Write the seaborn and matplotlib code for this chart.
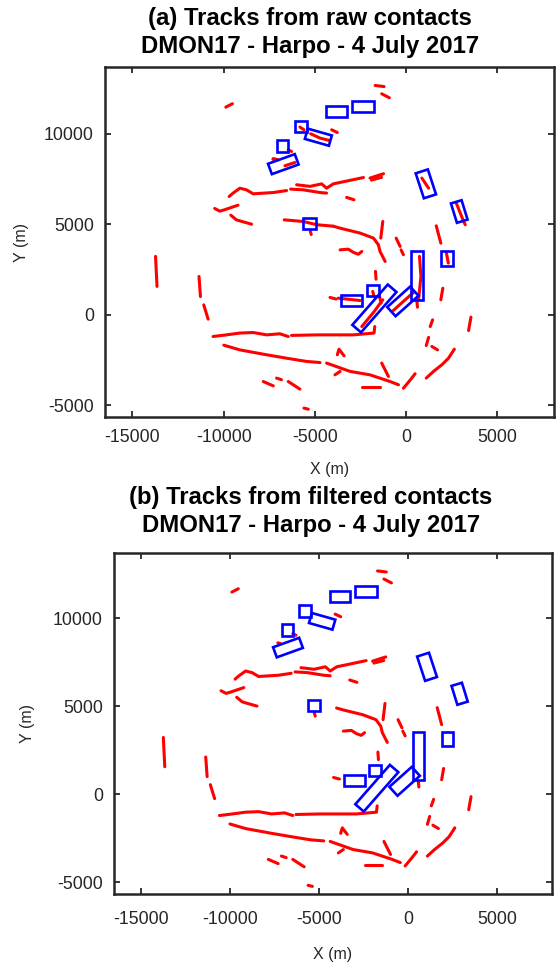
import numpy as np
import pandas as pd
import matplotlib
matplotlib.use("Agg")
import matplotlib.pyplot as plt
from matplotlib.patches import Rectangle
import seaborn as sns

# ---- track segments, (x, y) in metres, present in both processing chains ----
far_tracks = [
    [(-1700, 12680), (-1210, 12620)],
    [(-1340, 12220), (-920, 12000)],
    [(-9880, 11480), (-9520, 11670)],
    [(-4080, 10230), (-3770, 10080)],
    [(-6460, 9120), (-6280, 9030)],
    [(-7300, 8600), (-7150, 8560)],
]
upper_tracks = [
    [(-9700, 6540), (-9480, 6730), (-9110, 7000), (-8750, 6910), (-8380, 6690),
     (-7280, 6760), (-6550, 6870)],
    [(-6330, 6950), (-5640, 6910), (-4720, 6760), (-4360, 6730)],
    [(-6000, 7190), (-5270, 7100), (-4630, 7240), (-4360, 7000), (-3990, 7240),
     (-2340, 7590)],
    [(-1980, 7560), (-1240, 7800)],
    [(-1900, 7450), (-1350, 7600)],
    [(-3260, 6490), (-2860, 6360)],
    [(-10490, 5880), (-10210, 5730), (-9940, 5810), (-9210, 6060)],
    [(-9610, 5510), (-9300, 5250), (-8930, 5140), (-8470, 5010)],
]
middle_tracks = [
    [(-4000, 4900), (-3620, 4790), (-2530, 4520), (-1790, 4240), (-1520, 3870),
     (-1430, 3500), (-1150, 2950)],
    [(-1280, 5160), (-1390, 4240)],
    [(-3620, 3590), (-3170, 3630), (-2890, 3450), (-2620, 3350), (-2430, 3500)],
    [(-550, 4240), (-330, 3780)],
    [(-280, 3590), (-150, 3320)],
    [(1650, 4920), (1900, 3960)],
    [(-1680, 2400), (-1650, 1970)],
    [(2010, 1470), (1900, 830)],
    [(-4170, 960), (-3840, 870)],
    [(590, 740), (620, 420)],
    [(-5250, 4620), (-5200, 4440)],
]
lower_tracks = [
    [(3550, -130), (3420, -870)],
    [(1450, -280), (1320, -650)],
    [(1230, -1250), (1100, -1700)],
    [(1410, -1750), (1720, -1940)],
    [(2640, -1900), (2320, -2400), (1960, -2760), (1500, -3130), (1100, -3500)],
    [(490, -3260), (260, -3560), (-150, -4060)],
    [(-2430, -4000), (-1430, -4000)],
    [(-9990, -1680), (-9110, -1940), (-7650, -2210), (-6550, -2400), (-5450, -2580),
     (-4720, -2640)],
    [(-4360, -2670), (-3070, -3130), (-1980, -3320), (-880, -3690), (-420, -3870)],
    [(-1340, -2670), (-970, -3410)],
    [(-3770, -2210), (-3680, -1900), (-3400, -2270)],
    [(-3900, -3320), (-3620, -3130)],
    [(-10580, -1200), (-9850, -1110), (-9110, -1010), (-8380, -980), (-7650, -1110),
     (-6920, -1050), (-6460, -1200)],
    [(-6280, -1140), (-4900, -1110), (-3990, -1110), (-2890, -1110), (-1760, -1010),
     (-1720, -650)],
    [(-7830, -3690), (-7280, -3930)],
    [(-7100, -3500), (-6830, -3590)],
    [(-6460, -3690), (-5820, -4110)],
    [(-5600, -5160), (-5360, -5220)],
]
left_tracks = [
    [(-13730, 3230), (-13650, 1570)],
    [(-11350, 2120), (-11270, 1010)],
    [(-11090, 550), (-10850, -240)],
]
# tracks formed only from the unfiltered contacts
raw_only_tracks = [
    [(-5230, 10010), (-4720, 9770), (-4210, 9640)],
    [(-5820, 10380), (-5600, 10230)],
    [(-7280, 8640), (-7010, 8570)],
    [(-6640, 8240), (-6100, 8420)],
    [(860, 7560), (1230, 7000)],
    [(2750, 6170), (3150, 5160), (3240, 4980)],
    [(2200, 3450), (2310, 2860)],
    [(730, 3230), (810, 2120), (680, 830)],
    [(-3720, 920), (-2530, 790)],
    [(-2430, -650), (-1790, 130), (-1280, 830)],
    [(-700, 240), (-55, 830), (400, 1230)],
    [(-1830, 1290), (-1760, 1010)],
    [(-6680, 5250), (-5640, 5160), (-4900, 4980), (-4000, 4900)],
    [(-1460, 1010), (-1370, 650)],
]

# ---- ground-truth boxes: centre x, centre y, length, width, heading (deg) ----
box_cx = [-3810, -2360, -5780, -4810, -6770, -6730, -5290, 1080, 2910, 2230, 600,
          -1830, -3000, -1740, -180]
box_cy = [11240, 11520, 10410, 9820, 9330, 8330, 5050, 7240, 5710, 3130, 2180,
          1350, 790, 350, 740]
box_len = [1170, 1210, 660, 1370, 620, 1560, 680, 1450, 1120, 620, 640,
           660, 1170, 2960, 1690]
box_wid = [650, 650, 650, 590, 640, 610, 650, 700, 610, 810, 2750,
           650, 610, 630, 680]
box_ang = [0, 0, 0, -16, 0, 20, 0, -72, -73, 0, 0, 0, 0, 49, 42]

x_ticks = [-15000, -10000, -5000, 0, 5000]
y_ticks = [-5000, 0, 5000, 10000]
x_range = (-16500, 8100)
y_range = (-5650, 13700)

panel_titles = [
    "(a) Tracks from raw contacts\nDMON17 - Harpo - 4 July 2017",
    "(b) Tracks from filtered contacts\nDMON17 - Harpo - 4 July 2017",
]

sns.set_theme(style="white")
plt.rcParams["font.family"] = ["Liberation Sans", "DejaVu Sans"]

TEXT = "#262626"


def tracks_frame(groups):
    rows = []
    tid = 0
    for group in groups:
        for track in group:
            for x, y in track:
                rows.append((tid, x, y))
            tid += 1
    return pd.DataFrame(rows, columns=["track", "x", "y"])


def draw_panel(ax, groups, xpad, xlabelpad, ylabelpad):
    df = tracks_frame(groups)
    sns.lineplot(data=df, x="x", y="y", units="track", estimator=None, sort=False,
                 color="#ff0000", lw=2.2, solid_capstyle="round", legend=False, ax=ax)
    for cx, cy, ln, wd, ang in zip(box_cx, box_cy, box_len, box_wid, box_ang):
        ax.add_patch(Rectangle((cx - ln / 2, cy - wd / 2), ln, wd, angle=ang,
                               rotation_point="center", fill=False,
                               edgecolor="#0000ff", lw=1.9, zorder=3))
    ax.set_xlim(*x_range)
    ax.set_ylim(*y_range)
    ax.set_xticks(x_ticks)
    ax.set_yticks(y_ticks)
    ax.set_xticklabels([str(v) for v in x_ticks])
    ax.set_yticklabels([str(v) for v in y_ticks])
    ax.tick_params(direction="in", length=4, width=1.3, colors=TEXT, labelsize=12.8,
                   top=True, right=True, bottom=True, left=True)
    ax.tick_params(axis="x", pad=xpad)
    ax.tick_params(axis="y", pad=8)
    for sp in ax.spines.values():
        sp.set_visible(True)
        sp.set_color(TEXT)
        sp.set_linewidth(1.8)
    ax.set_xlabel("X (m)", fontsize=11.5, color=TEXT, labelpad=xlabelpad)
    ax.set_ylabel("Y (m)", fontsize=11.5, color=TEXT, labelpad=ylabelpad)


fig = plt.figure(figsize=(5.57, 9.63), dpi=100)
ax_a = fig.add_axes([0.1885, 0.5670, 0.8061, 0.3634])
ax_b = fig.add_axes([0.2047, 0.0717, 0.7864, 0.3541])

shared = [far_tracks, upper_tracks, middle_tracks, lower_tracks, left_tracks]
draw_panel(ax_a, shared + [raw_only_tracks], xpad=9, xlabelpad=11, ylabelpad=11)
draw_panel(ax_b, shared, xpad=12, xlabelpad=14, ylabelpad=13)

fig.text(310 / 557, 1 - 32.5 / 963, panel_titles[0], ha="center", va="center",
         fontsize=17.2, fontweight="bold", color="black", linespacing=1.25)
fig.text(311 / 557, 1 - 511.5 / 963, panel_titles[1], ha="center", va="center",
         fontsize=17.2, fontweight="bold", color="black", linespacing=1.32)

fig.savefig("out.png", dpi=100)
